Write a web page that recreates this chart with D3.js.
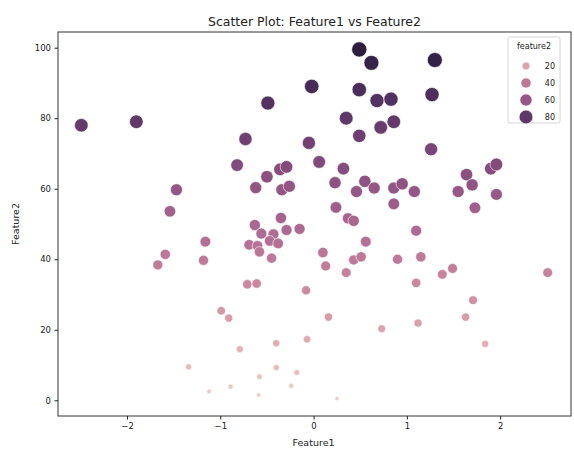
<!DOCTYPE html>
<meta charset="utf-8">
<script src="https://d3js.org/d3.v7.min.js"></script>
<style>
body { margin: 0; background: #fff; font-family: 'DejaVu Sans', sans-serif; }
.axis .domain { display: none; }
.axis text { fill: #222; }
.axis line { stroke: #222; }
</style>
<svg width="574" height="449"></svg>

<script>
// values
var feature1 = [-2.49, -1.90, -0.49, -0.02, -0.73, -0.05, -0.82, -0.36, -0.29, -0.50,
  -0.62, -0.34, -0.26, -1.47, -1.54, -0.35, -0.63, -0.56, -0.43, -0.29,
  -0.15, -0.69, -0.60, -0.47, -0.38, -0.58, -0.45, -1.16, -1.18, -1.59,
  -1.67, -0.71, -0.61, -0.08, -0.99, -0.91, -0.40, -0.07, -0.79, -1.34,
  -0.40, -0.58, -0.18, -1.12, -0.89, -0.59, -0.24, 0.25,
  0.49, 0.62, 1.30, 0.49, 0.68, 0.83, 1.27, 0.35, 0.72, 0.86,
  0.49, 1.26, 0.06, 0.32, 0.23, 0.55, 0.65, 0.46, 0.86, 0.95,
  1.08, 0.86, 0.24, 0.37, 0.43, 1.10, 1.64, 1.70, 1.55, 1.90,
  1.96, 1.96, 1.73, 0.56, 0.10, 0.13, 0.43, 0.51, 0.35, 0.90,
  1.15, 1.10, 1.38, 1.49, 2.51, 0.16, 0.73, 1.12, 1.71, 1.63, 1.84];

var feature2 = [78.0, 79.0, 84.3, 89.0, 74.1, 73.0, 66.7, 65.5, 66.2, 63.4,
  60.3, 59.7, 60.7, 59.7, 53.6, 51.7, 49.7, 47.3, 47.1, 48.3,
  48.6, 44.1, 43.8, 45.2, 44.5, 42.1, 40.3, 45.0, 39.7, 41.4,
  38.4, 32.9, 33.1, 31.2, 25.4, 23.3, 16.2, 17.3, 14.5, 9.5,
  9.3, 6.7, 7.9, 2.5, 3.9, 1.5, 4.1, 0.5,
  99.5, 95.7, 96.5, 88.1, 85.0, 85.4, 86.7, 80.0, 77.4, 79.0,
  75.0, 71.2, 67.6, 65.7, 61.7, 62.1, 60.2, 59.2, 60.2, 61.4,
  59.2, 55.7, 54.7, 51.6, 50.9, 48.1, 64.0, 61.1, 59.2, 65.7,
  66.9, 58.4, 54.6, 45.0, 41.9, 38.1, 39.8, 40.7, 36.2, 40.0,
  40.7, 33.3, 35.7, 37.4, 36.2, 23.6, 20.3, 21.9, 28.4, 23.6, 16.0];

var xTicks = [-2, -1, 0, 1, 2];
var yTicks = [0, 20, 40, 60, 80, 100];
var legendValues = [20, 40, 60, 80];

var svg = d3.select("svg"),
    margin = {top: 32, right: 3, bottom: 33, left: 58},
    width = +svg.attr("width") - margin.left - margin.right,
    height = +svg.attr("height") - margin.top - margin.bottom,
    g = svg.append("g").attr("transform", "translate(" + margin.left + "," + margin.top + ")");

// 5% padding like matplotlib
function padded(ext) {
  var m = (ext[1] - ext[0]) * 0.05;
  return [ext[0] - m, ext[1] + m];
}

var x = d3.scaleLinear().domain(padded(d3.extent(feature1))).range([0, width]);
var y = d3.scaleLinear().domain(padded(d3.extent(feature2))).range([height, 0]);

// seaborn default cubehelix colormap
function cubehelix(v) {
  var t = 0.85 - 0.7 * v,
      a = 0.8 * t * (1 - t) / 2,
      phi = 2 * Math.PI * (0.4 * t);
  function ch(p0, p1) {
    return 255 * Math.max(0, Math.min(1, t + a * (p0 * Math.cos(phi) + p1 * Math.sin(phi))));
  }
  return d3.rgb(ch(-0.14861, 1.78277), ch(-0.29227, -0.90649), ch(1.97294, 0)).formatHex();
}

var hueNorm = d3.scaleLinear().domain(d3.extent(feature2)).range([0, 1]).clamp(true);
var color = function(v) { return cubehelix(hueNorm(v)); };
var area = d3.scaleLinear().domain(d3.extent(feature2)).range([2.2 * 2.2, 7.6 * 7.6]);
var radius = function(v) { return Math.sqrt(area(v)); };

var data = feature1.map(function(d, i) { return {f1: d, f2: feature2[i]}; });

g.append("g")
  .selectAll("circle")
  .data(data)
  .enter().append("circle")
  .attr("cx", function(d) { return x(d.f1); })
  .attr("cy", function(d) { return y(d.f2); })
  .attr("r", function(d) { return radius(d.f2); })
  .attr("fill", function(d) { return color(d.f2); })
  .attr("stroke", "#fff")
  .attr("stroke-width", 0.6);

// frame
g.append("rect")
  .attr("width", width)
  .attr("height", height)
  .attr("fill", "none")
  .attr("stroke", "#333")
  .attr("stroke-width", 1);

g.append("g")
  .attr("class", "axis")
  .attr("transform", "translate(0," + height + ")")
  .call(d3.axisBottom(x).tickValues(xTicks).tickSize(3.5).tickPadding(3.5)
        .tickFormat(function(d) { return d < 0 ? "\u2212" + (-d) : d; }))
  .attr("font-family", "'DejaVu Sans', sans-serif")
  .attr("font-size", 8.5);

g.append("g")
  .attr("class", "axis")
  .call(d3.axisLeft(y).tickValues(yTicks).tickSize(3.5).tickPadding(3.5))
  .attr("font-family", "'DejaVu Sans', sans-serif")
  .attr("font-size", 8.5);

svg.append("text")
  .attr("x", margin.left + width / 2)
  .attr("y", 25.5)
  .attr("text-anchor", "middle")
  .attr("font-size", 12.5)
  .attr("fill", "#222")
  .text("Scatter Plot: Feature1 vs Feature2");

svg.append("text")
  .attr("x", margin.left + x(0))
  .attr("y", 446)
  .attr("text-anchor", "middle")
  .attr("font-size", 9.5)
  .attr("fill", "#222")
  .text("Feature1");

svg.append("text")
  .attr("transform", "translate(19," + (margin.top + height / 2) + ") rotate(-90)")
  .attr("text-anchor", "middle")
  .attr("font-size", 9.5)
  .attr("fill", "#222")
  .text("Feature2");

// legend
var legend = svg.append("g").attr("transform", "translate(508,37)");

legend.append("rect")
  .attr("width", 52)
  .attr("height", 86)
  .attr("rx", 2)
  .attr("fill", "#fff")
  .attr("fill-opacity", 0.8)
  .attr("stroke", "#ccc")
  .attr("stroke-width", 0.8);

legend.append("text")
  .attr("x", 26)
  .attr("y", 12)
  .attr("text-anchor", "middle")
  .attr("font-size", 8)
  .attr("fill", "#222")
  .text("feature2");

var item = legend.selectAll(".item")
  .data(legendValues)
  .enter().append("g")
  .attr("class", "item")
  .attr("transform", function(d, i) { return "translate(0," + (29 + i * 17) + ")"; });

item.append("circle")
  .attr("cx", 18)
  .attr("r", radius)
  .attr("fill", color)
  .attr("stroke", "#fff")
  .attr("stroke-width", 0.6);

item.append("text")
  .attr("x", 47)
  .attr("dy", "0.35em")
  .attr("text-anchor", "end")
  .attr("font-size", 8)
  .attr("fill", "#222")
  .text(function(d) { return d; });
</script>
